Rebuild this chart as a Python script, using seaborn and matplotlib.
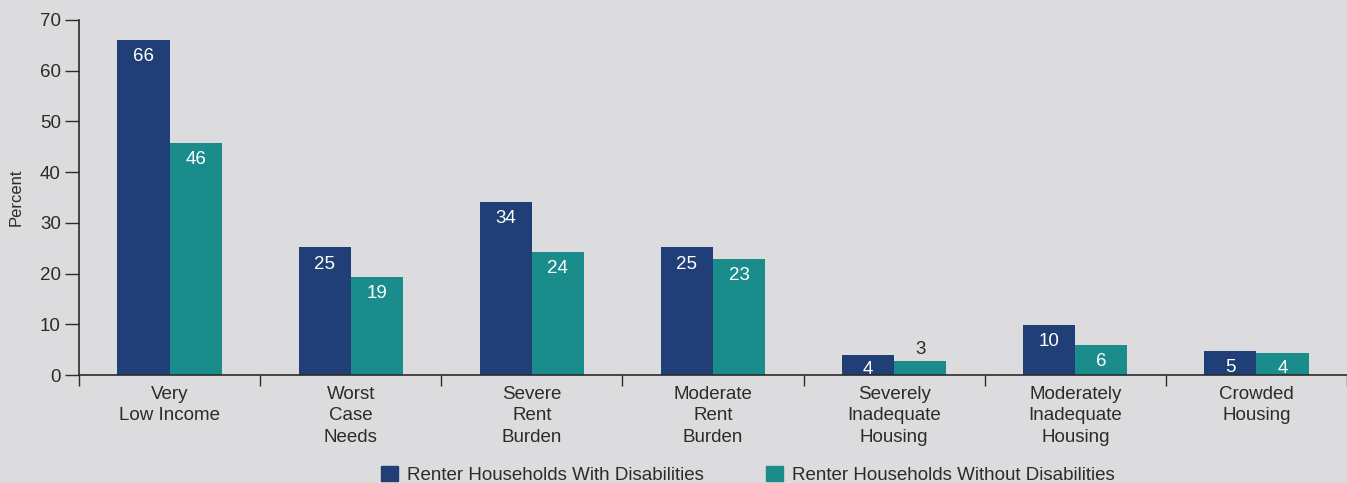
import matplotlib
matplotlib.use("Agg")
import matplotlib.pyplot as plt
import seaborn as sns
import pandas as pd
import numpy as np

categories = ["Very\nLow Income", "Worst\nCase\nNeeds", "Severe\nRent\nBurden", "Moderate\nRent\nBurden",
              "Severely\nInadequate\nHousing", "Moderately\nInadequate\nHousing", "Crowded\nHousing"]
series_names = ["Renter Households With Disabilities", "Renter Households Without Disabilities"]
with_dis = [66, 25, 34, 25, 4, 10, 5]
without_dis = [46, 19, 24, 23, 3, 6, 4]
# bar heights (labels are rounded)
with_dis_h = [66.1, 25.2, 34.1, 25.2, 3.9, 9.9, 4.7]
without_dis_h = [45.8, 19.3, 24.3, 22.9, 2.8, 5.9, 4.3]
yticks = [0, 10, 20, 30, 40, 50, 60, 70]

bg = "#dcdcde"
colors = ["#1f3f76", "#1a8c8c"]
text_c = "#2b2b2b"
fs = 13.5

df = pd.DataFrame({
    "cat": categories * 2,
    "series": [series_names[0]] * 7 + [series_names[1]] * 7,
    "h": with_dis_h + without_dis_h,
    "lab": with_dis + without_dis,
})

sns.set_style("white")
plt.rcParams["font.family"] = ["Liberation Sans", "DejaVu Sans"]

fig = plt.figure(figsize=(13.47, 4.83), dpi=100, facecolor=bg)
ax = fig.add_axes([79 / 1347, 1 - 375 / 483, 1 - 79 / 1347, (375 - 20) / 483])
ax.set_facecolor(bg)

sns.barplot(data=df, x="cat", y="h", hue="series", order=categories, hue_order=series_names,
            palette=colors, width=0.575, saturation=1, ax=ax, legend=False, linewidth=0)

ax.set_xlim(-0.5, 6.5)
ax.set_ylim(0, 70)
ax.set_yticks(yticks)
ax.tick_params(axis="y", direction="out", length=10, width=1, color=text_c, labelsize=fs,
               labelcolor=text_c, pad=3, left=True)
ax.set_xticks(range(7))
ax.set_xticklabels(categories, fontsize=fs, color=text_c, linespacing=1.33)
ax.tick_params(axis="x", which="major", length=0, pad=8)
ax.set_xticks(np.arange(-0.5, 7.0, 1.0), minor=True)
ax.tick_params(axis="x", which="minor", direction="out", length=8, width=1, color=text_c, bottom=True)
for s in ["top", "right"]:
    ax.spines[s].set_visible(False)
for s in ["left", "bottom"]:
    ax.spines[s].set_color(text_c)
    ax.spines[s].set_linewidth(1.2)
ax.set_xlabel("")
ax.set_ylabel("Percent", fontsize=12, color=text_c, labelpad=12)

# value labels
for cont, labs, hs in zip(ax.containers, [with_dis, without_dis], [with_dis_h, without_dis_h]):
    for bar, lab, h in zip(cont.patches, labs, hs):
        xc = bar.get_x() + bar.get_width() / 2
        if lab <= 3:
            ax.annotate(str(lab), (xc, h), xytext=(0, 2), textcoords="offset points",
                        ha="center", va="bottom", fontsize=fs, color=text_c)
        elif lab <= 5:
            ax.annotate(str(lab), (xc, h / 2), xytext=(0, -3), textcoords="offset points",
                        ha="center", va="center", fontsize=fs, color="white")
        else:
            ax.annotate(str(lab), (xc, h), xytext=(0, -6), textcoords="offset points",
                        ha="center", va="top", fontsize=fs, color="white")

handles = [plt.Rectangle((0, 0), 1, 1, color=c) for c in colors]
fig.legend(handles, series_names, loc="center", bbox_to_anchor=(748 / 1347, 1 - 475 / 483),
           ncol=2, frameon=False, fontsize=fs, handlelength=0.9, handleheight=0.9,
           handletextpad=0.5, columnspacing=3.3, labelcolor=text_c)

fig.savefig("out.png", dpi=100, facecolor=bg)
